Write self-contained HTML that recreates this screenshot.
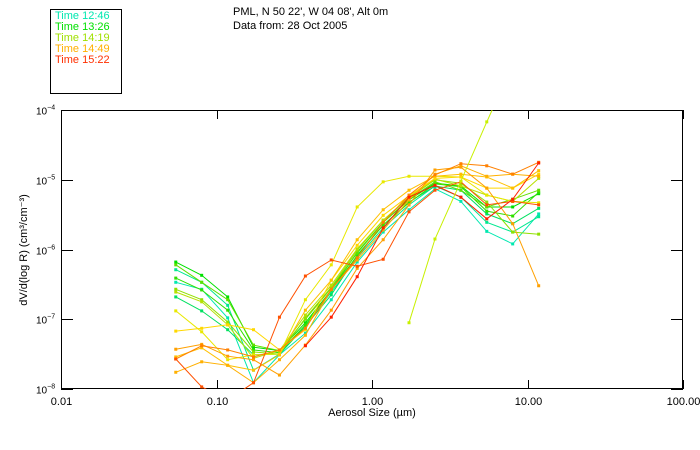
<!DOCTYPE html>
<html><head><meta charset="utf-8"><style>
html,body{margin:0;padding:0;background:#fff;}
svg{display:block;font-family:"Liberation Sans",sans-serif;}
</style></head><body>
<svg id="chart" width="700" height="450" viewBox="0 0 700 450" xmlns="http://www.w3.org/2000/svg">
<rect x="0" y="0" width="700" height="450" fill="#fff"/>
<g>
<rect x="50.5" y="9.5" width="71" height="84" fill="none" stroke="#000" stroke-width="1"/>
<text x="55" y="19" font-size="11" fill="#00e8b0">Time 12:46</text>
<text x="55" y="30" font-size="11" fill="#00e000">Time 13:26</text>
<text x="55" y="41" font-size="11" fill="#a0e000">Time 14:19</text>
<text x="55" y="52" font-size="11" fill="#ffb000">Time 14:49</text>
<text x="55" y="63" font-size="11" fill="#ff3000">Time 15:22</text>
</g>
<text x="233" y="15" font-size="11">PML, N 50 22', W 04 08', Alt 0m</text>
<text x="233" y="29" font-size="11">Data from: 28 Oct 2005</text>
<defs><clipPath id="plotclip"><rect x="61" y="110" width="622" height="279"/></clipPath></defs>
<g id="axes"></g>
<g id="series" clip-path="url(#plotclip)"></g>
<text x="372" y="416" font-size="11" text-anchor="middle">Aerosol Size (µm)</text>
<text x="0" y="0" font-size="11" text-anchor="middle" transform="translate(27,250) rotate(-90)">dV/d(log R) (cm³/cm⁻³)</text>
</svg>
<script>
// bin centres (µm)
const sizes = [0.0547,0.0803,0.118,0.173,0.254,0.373,0.547,0.803,1.18,1.73,2.54,3.73,5.47,8.03,11.8];
const xTickValues = [0.01,0.1,1,10,100];
const xTickLabels = ["0.01","0.10","1.00","10.00","100.00"];
const yTickExps = [-4,-5,-6,-7,-8];
const seriesColors = ["#00e8b0","#00e890","#00e060","#00e000","#30e000","#60e000","#90e000","#b8e000","#e8e800","#ffd800","#ffc000","#ffb000","#ffa000","#ff8000","#ff5000","#ff2000","#c8f000"];
// log10 of dV/dlogR
const s1 = [-6.47,-6.57,-6.98,-7.91,-7.51,-7.20,-6.72,-6.18,-5.75,-5.43,-5.13,-5.31,-5.74,-5.92,-5.49];
const s2 = [-6.29,-6.47,-6.80,-7.73,-7.50,-7.10,-6.61,-6.12,-5.69,-5.36,-5.09,-5.25,-5.61,-5.75,-5.53];
const s3 = [-6.68,-6.88,-7.15,-7.51,-7.50,-7.10,-6.65,-6.08,-5.65,-5.32,-5.09,-5.15,-5.49,-5.63,-5.41];
const s4 = [-6.18,-6.37,-6.68,-7.40,-7.45,-7.05,-6.58,-6.04,-5.61,-5.29,-5.05,-5.09,-5.39,-5.39,-5.20];
const s5 = [-6.41,-6.58,-6.87,-7.44,-7.48,-7.08,-6.58,-6.09,-5.65,-5.33,-5.06,-5.10,-5.45,-5.52,-5.18];
const s6 = [-6.22,-6.47,-6.72,-7.37,-7.45,-7.00,-6.55,-6.05,-5.61,-5.28,-5.03,-5.15,-5.39,-5.28,-5.15];
const s7 = [-6.57,-6.72,-7.04,-7.47,-7.50,-6.98,-6.54,-6.01,-5.58,-5.26,-5.00,-5.05,-5.32,-5.75,-5.78];
const s8 = [-6.61,-6.75,-7.08,-7.56,-7.45,-6.94,-6.51,-5.99,-5.58,-5.25,-4.99,-5.09,-5.22,-5.31,-4.98];
const s9 = [-6.88,-7.18,-7.58,-7.51,-7.50,-6.72,-6.22,-5.39,-5.03,-4.95,-4.95,-4.96,-5.22,-5.31,-5.33];
const s10 = [-7.17,-7.13,-7.08,-7.15,-7.44,-7.15,-6.44,-5.94,-5.51,-5.23,-4.98,-4.96,-5.12,-5.12,-4.92];
const s11 = [-7.54,-7.41,-7.66,-7.73,-7.51,-6.87,-6.44,-5.86,-5.43,-5.15,-4.95,-4.92,-4.96,-5.12,-4.87];
const s12 = [-7.76,-7.61,-7.66,-7.91,-7.58,-7.23,-6.57,-6.15,-5.72,-5.29,-4.92,-4.80,-4.95,-4.92,-4.95];
const s13 = [-7.43,-7.36,-7.53,-7.58,-7.80,-7.37,-6.87,-6.27,-5.86,-5.36,-4.86,-4.82,-5.12,-5.63,-6.52];
const s14 = [-7.57,-7.38,-7.44,-7.54,-7.44,-7.13,-6.57,-6.12,-5.61,-5.22,-4.93,-4.77,-4.80,-4.92,-4.75];
const s15 = [-7.57,-7.97,-8.16,-7.91,-6.97,-6.38,-6.15,-6.24,-6.14,-5.46,-5.15,-5.03,-5.36,-5.31,-5.36];
const s16 = [null,null,null,null,null,-7.38,-6.97,-6.39,-5.69,-5.25,-5.08,-5.25,-5.56,-5.28,-4.76];
const s17 = [null,null,null,null,null,null,null,null,null,-7.05,-5.85,-5.02,-4.17,-3.34,null];
const allSeries = [s1,s2,s3,s4,s5,s6,s7,s8,s9,s10,s11,s12,s13,s14,s15,s16,s17];

const NS="http://www.w3.org/2000/svg";
const L=61,R=683,T=110,B=389;
function xScale(v){return L+(Math.log10(v)+2)/4*(R-L);}
function yScale(e){return T+(-4-e)/4*(B-T);}
function mk(tag,attrs,parent){const el=document.createElementNS(NS,tag);for(const k in attrs)el.setAttribute(k,attrs[k]);parent.appendChild(el);return el;}

const axes=document.getElementById('axes');
const frame=mk('rect',{x:L+0.5,y:T+0.5,width:R-L-1,height:B-T-1,fill:'none',stroke:'#000','stroke-width':1},axes);


xTickValues.forEach((v,i)=>{
  const x=Math.round(xScale(v))+0.5;
  const t1=mk('line',{x1:x,x2:x,y1:B,y2:B-9,stroke:'#000'},axes);
  
  
  const t2=mk('line',{x1:x,x2:x,y1:T,y2:T+9,stroke:'#000'},axes);
  
  
  const lb=mk('text',{x:x,y:405,'font-size':11,'text-anchor':'middle'},axes);
  lb.textContent=xTickLabels[i];
  
  
});
yTickExps.forEach(e=>{
  const y=Math.round(yScale(e))+0.5;
  const t=mk('line',{x1:L,x2:L+12,y1:y,y2:y,stroke:'#000'},axes);
  
  
  const t2=mk('line',{x1:R,x2:R-12,y1:y,y2:y,stroke:'#000'},axes);
  
  
  const lb=mk('text',{x:36,y:y+4,'font-size':10},axes);
  lb.textContent='10';
  const sp=mk('tspan',{dy:-5,'font-size':7},lb);
  sp.textContent=String(e).replace('-','−');
  
  
});

const sg=document.getElementById('series');
allSeries.forEach((s,si)=>{
  const g=mk('g',{},sg);
  
  
  const col=seriesColors[si];
  let d='';let pen=false;
  s.forEach((e,i)=>{
    if(e===null){pen=false;return;}
    const x=xScale(sizes[i]),y=yScale(e);
    d+=(pen?'L':'M')+x.toFixed(1)+' '+y.toFixed(1);pen=true;
  });
  const p=mk('path',{d:d,fill:'none',stroke:col,'stroke-width':1},g);
  
  
  s.forEach((e,i)=>{
    if(e===null)return;
    const x=xScale(sizes[i]),y=yScale(e);
    const m=mk('rect',{x:x-1.5,y:y-1.5,width:3,height:3,fill:col},g);
    
    
  });
});
</script>
</body></html>
